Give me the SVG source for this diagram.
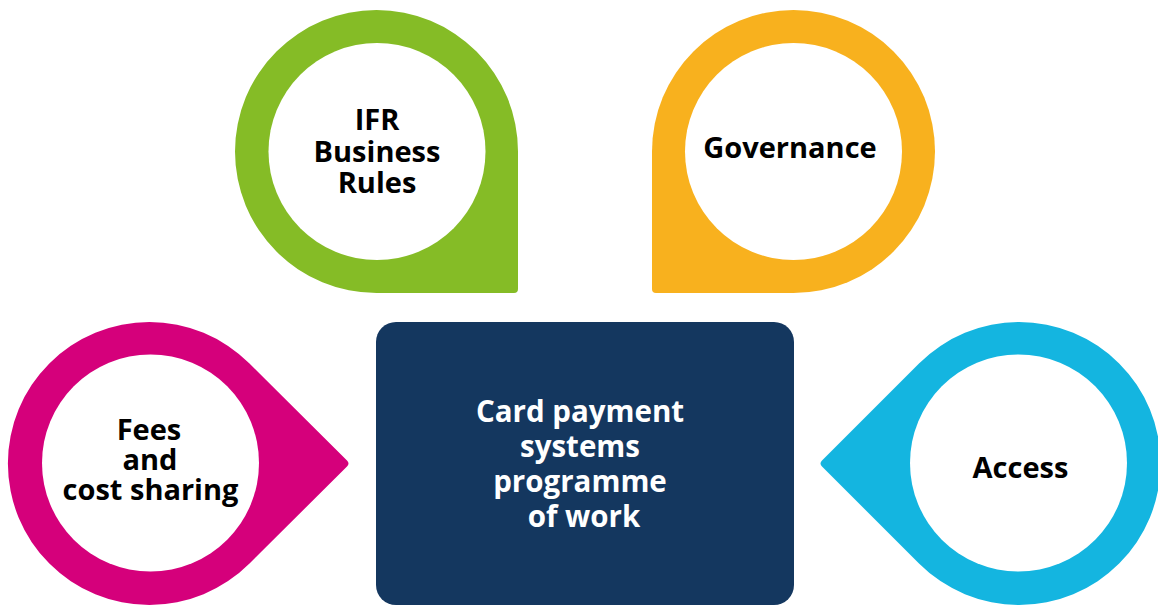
<svg xmlns="http://www.w3.org/2000/svg" width="1158" height="606" viewBox="0 0 1158 606">
  <style>
    .label { font-family: "Open Sans", "Liberation Sans", sans-serif; font-weight: 700; font-size: 29px; text-anchor: middle; fill: #000000; }
    .centre { fill: #ffffff; font-size: 29.5px; }
    .hole { fill: #ffffff; }
  </style>
  <rect width="1158" height="606" fill="#ffffff"/>

  <!-- pin with square corner, bottom right -->
  <g id="ifr-business-rules">
    <path fill="#85bc26" d="M235,151.5 A141.5,141.5 0 0 1 518,151.5 V289 Q518,293 514,293 H376.5 A141.5,141.5 0 0 1 235,151.5 Z"/>
    <circle class="hole" cx="377" cy="151.5" r="108.5"/>
    <text class="label" x="377" y="130">IFR</text>
    <text class="label" x="377" y="162">Business</text>
    <text class="label" x="377" y="193">Rules</text>
  </g>

  <!-- pin with square corner, bottom left -->
  <g id="governance">
    <path fill="#f8b11e" d="M652,151.5 A141.5,141.5 0 0 1 935,151.5 A141.5,141.5 0 0 1 793.5,293 H656 Q652,293 652,289 Z"/>
    <circle class="hole" cx="793.5" cy="151.5" r="108.5"/>
    <text class="label" x="790" y="158">Governance</text>
  </g>

  <!-- pin pointing right -->
  <g id="fees-cost-sharing">
    <path fill="#d5007b" d="M249.5,363.5 L347,460.5 Q350,463.5 347,466.5 L249.5,563.5 A141.5,141.5 0 1 1 249.5,363.5 Z"/>
    <circle class="hole" cx="150.5" cy="463" r="108.5"/>
    <text class="label" x="149" y="440">Fees</text>
    <text class="label" x="150" y="470">and</text>
    <text class="label" x="150.5" y="500">cost sharing</text>
  </g>

  <!-- pin pointing left -->
  <g id="access">
    <path fill="#14b5e0" d="M919,363.5 A141.5,141.5 0 1 1 919,563.5 L822,466.5 Q819,463.5 822,460.5 Z"/>
    <circle class="hole" cx="1018.5" cy="463" r="108.5"/>
    <text class="label" x="1020.5" y="478">Access</text>
  </g>

  <g id="card-payment-systems">
    <rect x="376" y="322" width="418" height="283" rx="20" fill="#14375f"/>
    <text class="label centre" x="580" y="422">Card payment</text>
    <text class="label centre" x="580" y="457">systems</text>
    <text class="label centre" x="580" y="492">programme</text>
    <text class="label centre" x="584" y="527">of work</text>
  </g>

  <g id="connectors"/>
</svg>
